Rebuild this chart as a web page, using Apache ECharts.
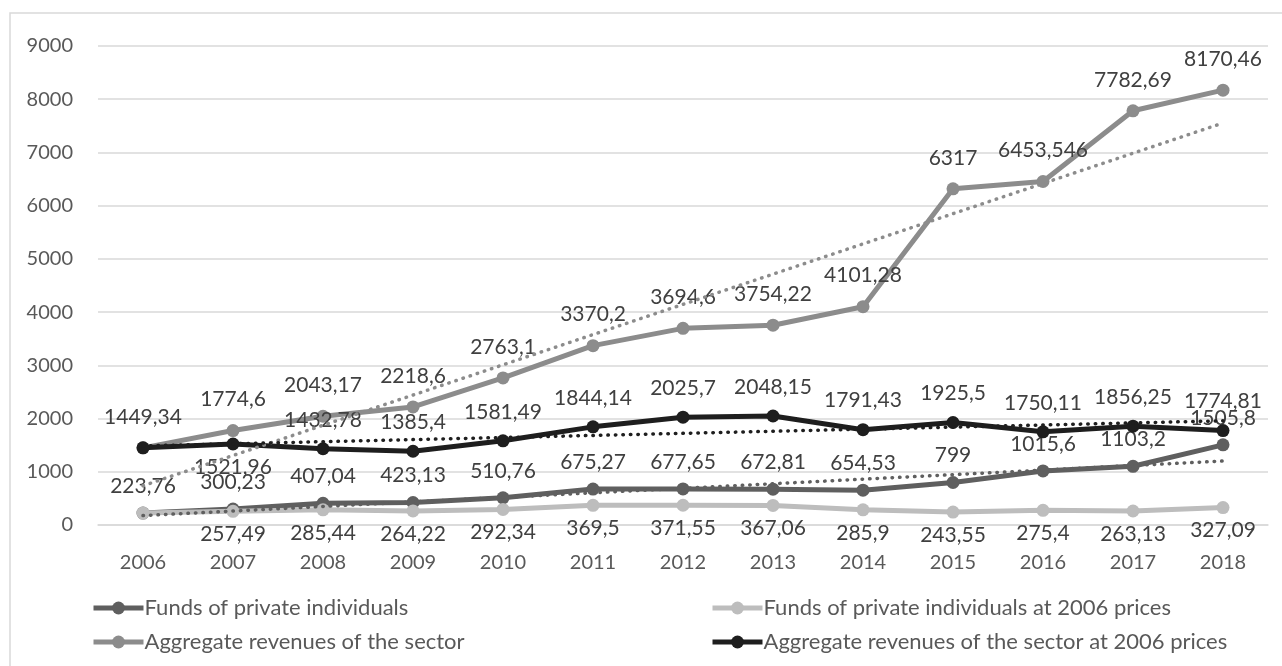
<!DOCTYPE html>
<html>
<head>
<meta charset="utf-8">
<script src="https://cdn.jsdelivr.net/npm/echarts@6/dist/echarts.min.js"></script>
<style>
html,body{margin:0;padding:0;background:#fff;}
#chart{width:1282px;height:666px;}
</style>
</head>
<body>
<div id="chart"></div>
<script>
const years = ['2006','2007','2008','2009','2010','2011','2012','2013','2014','2015','2016','2017','2018'];
const fundsPrivate = [223.76,300.23,407.04,423.13,510.76,675.27,677.65,672.81,654.53,799,1015.6,1103.2,1505.8];
const fundsPrivate2006 = [223.76,257.49,285.44,264.22,292.34,369.5,371.55,367.06,285.9,243.55,275.4,263.13,327.09];
const aggregate = [1449.34,1774.6,2043.17,2218.6,2763.1,3370.2,3694.6,3754.22,4101.28,6317,6453.546,7782.69,8170.46];
const aggregate2006 = [1449.34,1521.96,1432.78,1385.4,1581.49,1844.14,2025.7,2048.15,1791.43,1925.5,1750.11,1856.25,1774.81];
const yTicks = [0,1000,2000,3000,4000,5000,6000,7000,8000,9000];

const names = ['Funds of private individuals','Funds of private individuals at 2006 prices','Aggregate revenues of the sector','Aggregate revenues of the sector at 2006 prices'];
const colors = ['#5f5f5f','#bdbdbd','#8c8c8c','#1e1e1e'];

function fmt(v){ return String(v).replace('.', ','); }

// least-squares linear trend (as Excel's linear trendline)
function trend(arr){
  const n = arr.length;
  let sx=0, sy=0, sxy=0, sxx=0;
  arr.forEach((y,i)=>{ sx+=i; sy+=y; sxy+=i*y; sxx+=i*i; });
  const b = (n*sxy - sx*sy)/(n*sxx - sx*sx);
  const a = (sy - b*sx)/n;
  return arr.map((_,i)=> a + b*i);
}

const labelFont = {fontFamily:'Lato', fontSize:21, color:'#404040'};

function mkData(arr, opts){
  return arr.map((v,i)=>{
    const d = {value:v};
    if (opts.hide && opts.hide.includes(i)) d.label = {show:false};
    else if (opts.below && opts.below.includes(i)) d.label = {position:'bottom', distance:6};
    return d;
  });
}

function lineSeries(idx, arr, pos, dist, opts){
  return {
    name: names[idx], type:'line', data: mkData(arr, opts||{}),
    symbol:'circle', symbolSize:13, showAllSymbol:true,
    lineStyle:{color:colors[idx], width:5},
    itemStyle:{color:colors[idx]},
    label:Object.assign({show:true, position:pos, distance:dist, formatter:p=>fmt(p.value)}, labelFont),
    emphasis:{disabled:true}, z: 2+idx, animation:false
  };
}
function trendSeries(idx, arr){
  return {
    name: names[idx]+' trend', type:'line', data: trend(arr), symbol:'none',
    lineStyle:{color:colors[idx], width:3.5, type:[0.5,7], cap:'round'},
    emphasis:{disabled:true}, z: 10, silent:true, animation:false
  };
}

const legendBase = {orient:'vertical', top:592, itemWidth:50, itemHeight:16, itemGap:12,
  lineStyle:{width:5}, textStyle:{fontFamily:'Lato', fontSize:22, color:'#595959', padding:[0,0,0,-4]}};

const chart = echarts.init(document.getElementById('chart'));
chart.setOption({
  backgroundColor:'#fff',
  animation:false,
  graphic:[{type:'rect', shape:{x:10,y:13,width:1300,height:700}, style:{fill:'none', stroke:'#d9d9d9', lineWidth:1.5}, silent:true, z:-1}],
  grid:{left:98, right:14, top:46, bottom:141, containLabel:false},
  legend:[
    Object.assign({data:[names[0], names[2]], left:86}, legendBase),
    Object.assign({data:[names[1], names[3]], left:705}, legendBase)
  ],
  xAxis:{type:'category', data:years, boundaryGap:true,
    axisLine:{show:true, lineStyle:{color:'#d9d9d9', width:1.5}}, axisTick:{show:false},
    axisLabel:{fontFamily:'Lato', fontSize:20, color:'#595959', margin:28}},
  yAxis:{type:'value', min:yTicks[0], max:yTicks[yTicks.length-1], interval:1000,
    axisLine:{show:false}, axisTick:{show:false},
    splitLine:{lineStyle:{color:'#d9d9d9', width:1.5}},
    axisLabel:{fontFamily:'Lato', fontSize:20, color:'#595959', margin:25, formatter:v=>String(v)}},
  series:[
    lineSeries(0, fundsPrivate, 'top', 10),
    lineSeries(1, fundsPrivate2006, 'bottom', 6, {hide:[0]}),
    lineSeries(2, aggregate, 'top', 14),
    lineSeries(3, aggregate2006, 'top', 12, {hide:[0], below:[1]}),
    trendSeries(0, fundsPrivate),
    trendSeries(2, aggregate),
    trendSeries(3, aggregate2006)
  ]
});
</script>
</body>
</html>
